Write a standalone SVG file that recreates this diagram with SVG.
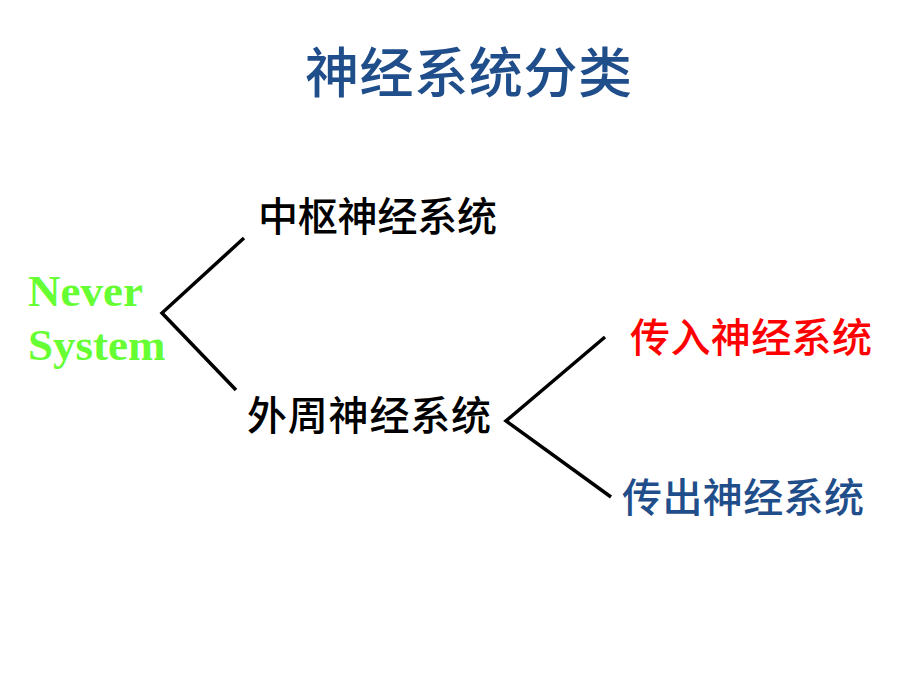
<svg xmlns="http://www.w3.org/2000/svg" width="920" height="690" viewBox="0 0 920 690">
<style>
.cjk{font-family:"Noto Sans CJK SC","Noto Sans CJK JP",sans-serif;font-weight:500;}
.lbl{font-size:40px;fill:#000;}
.line{stroke:#000;stroke-width:3.5;fill:none;stroke-linecap:butt;stroke-linejoin:miter;}
.green{font-family:"Liberation Serif","Times New Roman",serif;font-weight:bold;font-size:45px;fill:#66FF33;}
</style>
<rect width="920" height="690" fill="#fff"/>
<g id="title"><text class="cjk" x="305" y="93" font-size="54" fill="#1F4E8A" textLength="327">神经系统分类</text></g>
<g id="root"><text class="green" x="28" y="306">Never</text><text class="green" x="28" y="360">System</text></g>
<g id="cns"><text class="cjk lbl" x="258" y="231" textLength="239">中枢神经系统</text></g>
<g id="pns"><text class="cjk lbl" x="247" y="430" textLength="244">外周神经系统</text></g>
<g id="afferent"><text class="cjk lbl" x="630" y="352" style="fill:#FF0000" textLength="242">传入神经系统</text></g>
<g id="efferent"><text class="cjk lbl" x="622" y="512" style="fill:#1F4E8A" textLength="242">传出神经系统</text></g>
<g id="connectors">
<polyline class="line" points="244,238 162,313 236,390"/>
<polyline class="line" points="605,337 506,421 611,497"/>
</g>
</svg>
